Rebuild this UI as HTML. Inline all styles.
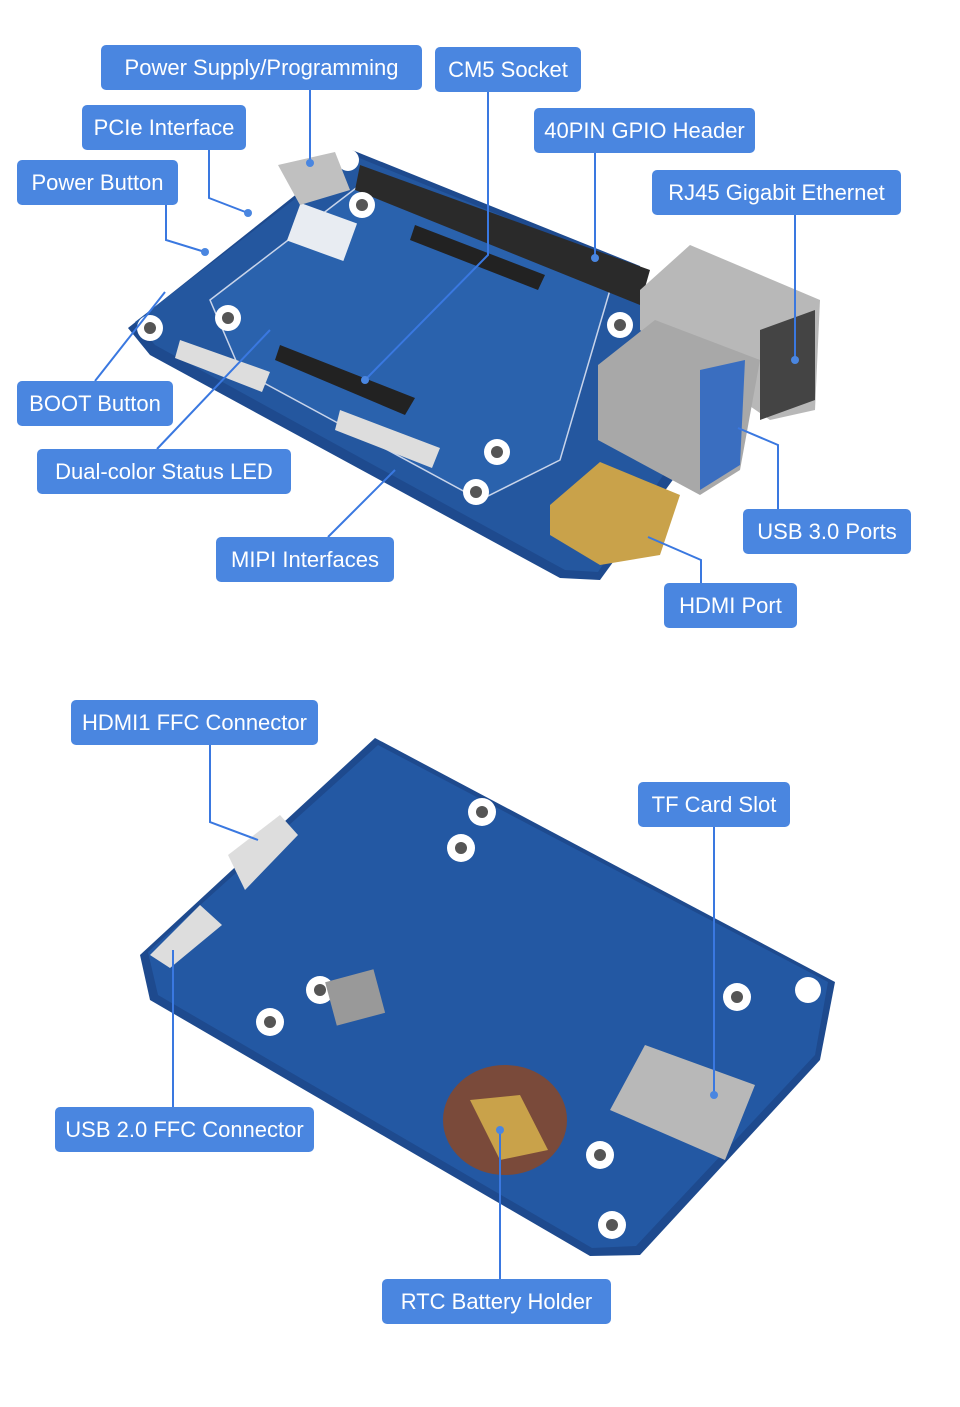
<!DOCTYPE html>
<html><head><meta charset="utf-8"><style>
body{margin:0;background:#fff;width:960px;height:1407px;position:relative;overflow:hidden;font-family:"Liberation Sans",sans-serif}
.l{position:absolute;background:#4a86e0;color:#fff;border-radius:5px;height:45px;line-height:45px;text-align:center;font-size:22px;white-space:nowrap}
svg{position:absolute;left:0;top:0}
</style></head><body>
<svg width="960" height="1407">
<!-- top board -->
<polygon points="128,328 352,150 640,266 680,470 600,580 560,578 150,355" fill="#1e4a8e"/>
<polygon points="135,322 352,155 635,270 670,465 598,572 565,570 155,345" fill="#24579f"/>
<polygon points="210,300 360,185 610,290 560,460 480,500 240,370" fill="#2a62ad" stroke="#c8d4ea" stroke-width="1.5"/>
<polygon points="360,165 650,270 640,305 355,190" fill="#2a2a2a"/>
<g fill="#fff"><circle cx="150" cy="328" r="13"/><circle cx="228" cy="318" r="13"/><circle cx="362" cy="205" r="13"/><circle cx="348" cy="160" r="11"/><circle cx="620" cy="325" r="13"/><circle cx="497" cy="452" r="13"/><circle cx="476" cy="492" r="13"/></g>
<g fill="#555"><circle cx="150" cy="328" r="6"/><circle cx="228" cy="318" r="6"/><circle cx="362" cy="205" r="6"/><circle cx="620" cy="325" r="6"/><circle cx="497" cy="452" r="6"/><circle cx="476" cy="492" r="6"/></g>
<polygon points="415,225 545,275 538,290 410,240" fill="#222"/>
<polygon points="280,345 415,398 405,415 275,360" fill="#222"/>
<polygon points="180,340 270,372 262,392 175,358" fill="#ddd"/>
<polygon points="340,410 440,448 432,468 335,430" fill="#ddd"/>
<rect x="292" y="212" width="60" height="40" fill="#e8ecf2" transform="rotate(20 322 232)"/>
<polygon points="640,290 690,245 820,300 815,410 770,420 640,330" fill="#b8b8b8"/>
<polygon points="760,330 815,310 815,400 760,420" fill="#444"/>
<polygon points="598,365 655,320 760,360 740,470 700,495 598,440" fill="#a8a8a8"/>
<polygon points="700,370 745,360 740,465 700,490" fill="#3a6ec0"/>
<polygon points="550,505 600,462 680,495 660,555 600,565 550,535" fill="#c9a24a"/>
<polygon points="278,165 335,152 350,190 300,205" fill="#c0c0c0"/>
<!-- bottom board -->
<polygon points="140,955 375,738 835,982 820,1060 640,1255 590,1256 150,1000" fill="#1e4a8e"/>
<polygon points="148,952 378,745 828,982 815,1055 636,1246 592,1248 158,995" fill="#2358a3"/>
<g fill="#fff"><circle cx="482" cy="812" r="14"/><circle cx="461" cy="848" r="14"/><circle cx="320" cy="990" r="14"/><circle cx="270" cy="1022" r="14"/><circle cx="737" cy="997" r="14"/><circle cx="808" cy="990" r="13"/><circle cx="600" cy="1155" r="14"/><circle cx="612" cy="1225" r="14"/></g>
<g fill="#555"><circle cx="482" cy="812" r="6"/><circle cx="461" cy="848" r="6"/><circle cx="320" cy="990" r="6"/><circle cx="270" cy="1022" r="6"/><circle cx="737" cy="997" r="6"/><circle cx="600" cy="1155" r="6"/><circle cx="612" cy="1225" r="6"/></g>
<polygon points="228,855 280,815 298,835 245,890" fill="#ddd"/>
<polygon points="150,955 200,905 222,925 170,968" fill="#ddd"/>
<polygon points="610,1110 645,1045 755,1085 725,1160" fill="#b8b8b8"/>
<ellipse cx="505" cy="1120" rx="62" ry="55" fill="#7a4a3a"/>
<polygon points="470,1100 520,1095 548,1150 500,1160" fill="#c9a24a"/>
<rect x="330" y="975" width="50" height="45" fill="#999" transform="rotate(-15 355 997)"/>
<!-- lines -->
<g stroke="#3a78e0" stroke-width="2" fill="none">
<polyline points="310,90 310,163"/>
<polyline points="488,92 488,255 365,380"/>
<polyline points="209,150 209,198 248,213"/>
<polyline points="166,205 166,240 205,252"/>
<polyline points="595,153 595,258"/>
<polyline points="795,215 795,360"/>
<polyline points="95,381 165,292"/>
<polyline points="157,449 270,330"/>
<polyline points="778,509 778,445 738,428"/>
<polyline points="328,537 395,470"/>
<polyline points="701,583 701,560 648,537"/>
<polyline points="210,745 210,822 258,840"/>
<polyline points="714,827 714,1095"/>
<polyline points="173,1107 173,950"/>
<polyline points="500,1279 500,1130"/>
</g>
<g fill="#4a86e0"><circle cx="310" cy="163" r="4"/><circle cx="248" cy="213" r="4"/><circle cx="205" cy="252" r="4"/><circle cx="595" cy="258" r="4"/><circle cx="795" cy="360" r="4"/><circle cx="365" cy="380" r="4"/><circle cx="714" cy="1095" r="4"/><circle cx="500" cy="1130" r="4"/></g>
</svg>
<div class="l" style="left:101px;top:45px;width:321px">Power Supply/Programming</div>
<div class="l" style="left:435px;top:47px;width:146px">CM5 Socket</div>
<div class="l" style="left:82px;top:105px;width:164px">PCIe Interface</div>
<div class="l" style="left:534px;top:108px;width:221px">40PIN GPIO Header</div>
<div class="l" style="left:17px;top:160px;width:161px">Power Button</div>
<div class="l" style="left:652px;top:170px;width:249px">RJ45 Gigabit Ethernet</div>
<div class="l" style="left:17px;top:381px;width:156px">BOOT Button</div>
<div class="l" style="left:37px;top:449px;width:254px">Dual-color Status LED</div>
<div class="l" style="left:743px;top:509px;width:168px">USB 3.0 Ports</div>
<div class="l" style="left:216px;top:537px;width:178px">MIPI Interfaces</div>
<div class="l" style="left:664px;top:583px;width:133px">HDMI Port</div>
<div class="l" style="left:71px;top:700px;width:247px">HDMI1 FFC Connector</div>
<div class="l" style="left:638px;top:782px;width:152px">TF Card Slot</div>
<div class="l" style="left:55px;top:1107px;width:259px">USB 2.0 FFC Connector</div>
<div class="l" style="left:382px;top:1279px;width:229px">RTC Battery Holder</div>
</body></html>
